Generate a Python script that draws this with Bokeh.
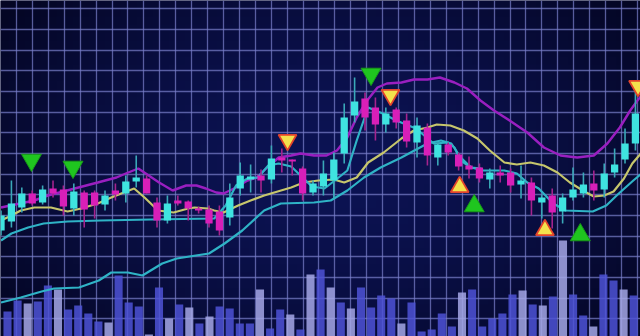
import numpy as np
from bokeh.plotting import figure
from bokeh.models import Range1d, FixedTicker, ColumnDataSource
from bokeh.embed import file_html
from bokeh.resources import INLINE

# ---------------- data ----------------
opens  = [106,115,129,143,134,148,147,128,144,144,132,146,143,155,158,134,116,136,135,128,
          127,125,119,148,157,161,157,179,177,168,144,150,156,183,221,238,229,212,227,216,
          194,209,179,192,182,171,169,157,164,164,152,154,134,141,125,139,143,153,147,164,
          177,193]
closes = [121,133,143,133,147,143,130,145,127,131,141,142,155,159,143,116,133,133,128,126,
          113,106,139,161,160,156,178,176,175,143,153,163,177,219,235,219,212,223,214,195,
          211,181,192,184,170,167,158,164,161,151,156,136,139,124,139,147,152,146,163,172,
          193,223]
highs  = [126,156,149,146,151,156,151,153,146,146,146,153,161,181,161,139,141,141,136,130,
          131,131,153,174,172,167,191,188,177,170,156,176,184,233,259,244,239,229,229,223,
          219,213,194,194,184,180,173,168,171,168,171,159,142,148,143,169,164,166,173,188,
          208,246]
lows   = [101,109,124,131,132,139,121,121,109,118,126,136,134,149,143,109,113,131,116,123,
          109,101,111,141,144,144,153,164,161,136,141,141,138,173,214,206,196,204,208,189,
          179,171,171,181,166,158,154,148,154,144,138,121,118,108,113,136,139,136,139,159,
          173,186]

ma_purple_t = [0.0,3.2,4.5,9.3,11.1,12.0,13.2,14.2,15.2,16.5,17.8,18.8,19.7,20.7,21.4,22.4,
               23.7,24.6,25.6,26.7,27.9,28.8,30.1,31.3,32.3,33.3,34.2,35.2,36.2,37.1,38.5,
               39.7,41.0,42.2,43.6,44.8,46.1,47.4,48.9,50.6,52.2,53.8,55.4,57.0,58.3,59.5,
               60.5,61.2,61.6]
ma_purple_v = [129,136,141,154,159,163,168,161,154,146,151,151,148,144,143,148,156,159,169,
               179,181,183,181,181,186,199,219,236,249,253,254,257,257,259,254,248,236,226,
               216,204,189,181,179,181,193,209,226,236,241]

ma_yellow_t = [0.0,1.0,1.9,3.2,4.8,6.4,7.7,9.3,10.6,11.8,12.8,13.8,15.1,16.6,18.0,18.6,19.9,
               20.5,21.4,22.8,24.0,25.3,26.6,27.9,29.1,30.5,32.0,33.0,34.2,35.3,36.8,38.5,
               39.7,41.0,41.9,43.2,44.5,45.8,47.0,48.4,49.6,50.9,52.2,53.5,54.7,56.1,57.0,
               58.0,58.9,59.9,60.7,61.6]
ma_yellow_v = [116,121,126,129,129,125,128,133,139,144,148,139,126,124,128,129,128,126,124,
               131,136,141,145,149,154,156,157,154,159,174,184,198,206,209,212,211,206,198,
               186,174,172,174,171,164,154,145,140,141,145,158,173,184]

ma_teal_t = [0.0,1.9,3.9,5.1,7.5,9.4,10.6,12.2,13.6,15.5,16.9,20.0,21.5,23.2,25.3,26.9,30.1,
             31.7,33.3,34.9,36.5,38.5,41.0,42.3,43.3,44.2,45.2,46.4,48.4,49.6,50.6,51.7,53.1,
             54.3,56.9,58.2,59.4,60.8,61.6]
ma_teal_v = [34,39,45,48,49,56,64,64,61,73,78,83,93,106,126,133,134,136,146,159,169,179,193,
             196,193,179,169,166,166,163,154,148,133,126,125,131,143,156,163]

fast_t = [0.0,1.0,2.6,4.1,6.4,9.6,14.4,20.5,21.6,22.6,23.7,24.7,25.7,26.7,27.9,28.9,29.9,
          31.1,32.1,33.3,34.2,35.3,36.7,38.0,39.9,41.6,43.0,43.6,44.2,45.2,46.2]
fast_v = [96,103,109,113,115,116,117,118,131,151,158,159,171,173,170,160,150,148,156,166,
          196,229,223,216,208,193,194,189,176,169,168]

volumes = [25,36,33,35,51,47,27,31,23,15,14,61,34,30,2,49,18,32,29,13,20,30,28,13,13,47,8,
           27,22,7,62,67,49,34,28,49,29,41,38,13,34,5,7,23,10,44,47,10,18,23,42,46,32,31,40,
           96,42,21,10,62,56,47,41]
vol_light = [0,0,1,0,0,1,0,0,0,0,1,0,0,0,1,0,1,0,1,0,1,0,0,0,0,1,0,0,1,0,1,0,1,0,1,0,0,0,
             0,1,0,0,0,0,0,1,0,0,0,0,0,1,0,1,0,1,0,0,1,0,0,1,0]

sig_green_dn_t = [2.93, 6.92, 35.58]
sig_green_dn_v = [176.5, 169.5, 262.5]
sig_yellow_dn_t = [27.55, 37.45, 61.25]
sig_yellow_dn_v = [196.5, 241.5, 250.5]
sig_yellow_up_t = [44.1, 52.3]
sig_yellow_up_v = [149.5, 106.5]
sig_green_up_t = [45.5, 55.7]
sig_green_up_v = [130.5, 101.5]

# ---------------- figure ----------------
W, H = 640, 336
PITCH = 10.4
X0, X1 = -0.05, -0.05 + W / PITCH
p = figure(width=W, height=H, output_backend="svg", toolbar_location=None,
           x_range=Range1d(X0, X1), y_range=Range1d(0, 336),
           min_border=0, outline_line_color=None)
p.background_fill_color = "#080c3e"
p.border_fill_color = "#080c3e"

# soft vignette backdrop (decoration only)
gh, gw = 42, 80
yy, xx = np.mgrid[0:gh, 0:gw]
d = np.sqrt(((xx - gw * 0.5) / (gw * 0.62)) ** 2 + ((yy - gh * 0.5) / (gh * 0.75)) ** 2)
d = np.clip(d, 0, 1) ** 1.6
inner = np.array([12, 19, 84]); outer = np.array([4, 6, 36])
rgb = inner[None, None, :] * (1 - d[..., None]) + outer[None, None, :] * d[..., None]
img = np.empty((gh, gw), dtype=np.uint32)
view = img.view(dtype=np.uint8).reshape((gh, gw, 4))
view[..., 0] = rgb[..., 0]; view[..., 1] = rgb[..., 1]; view[..., 2] = rgb[..., 2]; view[..., 3] = 255
p.image_rgba(image=[img], x=X0, y=0, dw=X1 - X0, dh=336, level="image")

vpitch = 10.1
p.extra_x_ranges = {"vol": Range1d(-7 / vpitch, -7 / vpitch + W / vpitch)}
p.extra_y_ranges = {"vol": Range1d(0, 336)}

p.axis.visible = False
gx = [(16 + 15.92 * k) / PITCH - 0.05 for k in range(41)]
gy = [336 - (8.3 + 20.67 * k) for k in range(17)]
p.xgrid.ticker = FixedTicker(ticks=gx)
p.ygrid.ticker = FixedTicker(ticks=gy)
p.grid.grid_line_color = "#7a80cc"
p.grid.grid_line_alpha = 0.7
p.grid.grid_line_width = 1.3

# volume
vt = list(range(len(volumes)))
vcol = ["#a4a7e6" if f else "#4d52d6" for f in vol_light]
vsrc = ColumnDataSource(dict(t=vt, v=volumes, c=vcol))
p.vbar(x="t", top="v", bottom=0, width=0.8, fill_color="c", line_color=None,
       fill_alpha=0.85, source=vsrc, x_range_name="vol", y_range_name="vol")

# lines
p.line(ma_teal_t, ma_teal_v, line_color="#2fb3c6", line_width=2.2)
p.line(ma_purple_t, ma_purple_v, line_color="#9a1fc0", line_width=2.4)
p.line(ma_yellow_t, ma_yellow_v, line_color="#c6c66c", line_width=2.2)
p.line(fast_t, fast_v, line_color="#2fb3c6", line_width=2.2)

# candles
t = np.arange(len(opens))
o = np.array(opens); c = np.array(closes)
up = c >= o
csrc = ColumnDataSource(dict(
    t=t, hi=highs, lo=lows,
    top=np.maximum(o, c), bot=np.minimum(o, c),
    body=np.where(up, "#3fe3e0", "#d81fb8"),
    wick=np.where(up, "#3aa8b8", "#a4238e"),
))
p.segment(x0="t", y0="hi", x1="t", y1="lo", line_color="wick", line_width=1.6, source=csrc)
p.vbar(x="t", top="top", bottom="bot", width=0.7, fill_color="body", line_color=None,
       source=csrc)

# signals
p.scatter(sig_green_dn_t, sig_green_dn_v, marker="inverted_triangle", size=20,
          fill_color="#1fc51f", line_color="#189a18", line_width=1)
p.scatter(sig_green_up_t, sig_green_up_v, marker="triangle", size=20,
          fill_color="#1fc51f", line_color="#189a18", line_width=1)
p.scatter(sig_yellow_dn_t, sig_yellow_dn_v, marker="inverted_triangle", size=18,
          fill_color="#f3e24c", line_color="#e2432c", line_width=1.8)
p.scatter(sig_yellow_up_t, sig_yellow_up_v, marker="triangle", size=18,
          fill_color="#f3e24c", line_color="#e2432c", line_width=1.8)

open("out.html", "w").write(file_html(p, INLINE))
